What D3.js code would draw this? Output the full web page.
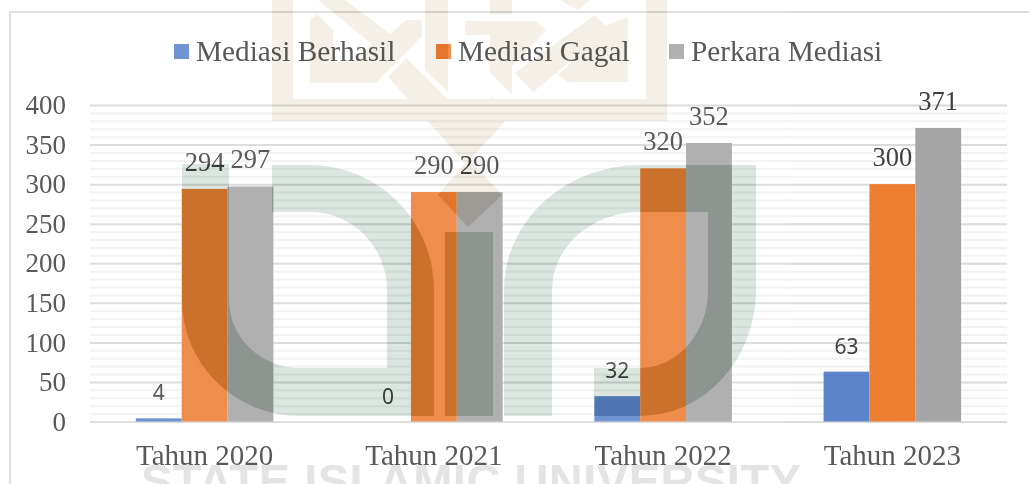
<!DOCTYPE html>
<html>
<head>
<meta charset="utf-8">
<script src="https://cdn.jsdelivr.net/npm/d3@7"></script>
<style>
  body { margin: 0; background: #fff; }
  svg { display: block; }
</style>
</head>
<body>
<script>
const categorias = ["Tahun 2020", "Tahun 2021", "Tahun 2022", "Tahun 2023"];
const series = ["Mediasi Berhasil", "Mediasi Gagal", "Perkara Mediasi"];
const mediasiBerhasil = [4, 0, 32, 63];
const mediasiGagal = [294, 290, 320, 300];
const perkaraMediasi = [297, 290, 352, 371];
const ticksMayor = [0, 50, 100, 150, 200, 250, 300, 350, 400];
const ticksMenor = [10, 20, 30, 40, 60, 70, 80, 90, 110, 120, 130, 140, 160, 170, 180, 190,
  210, 220, 230, 240, 260, 270, 280, 290, 310, 320, 330, 340, 360, 370, 380, 390];
const colores = ["#5b84cb", "#ed7d31", "#a5a5a5"];
const valores = [mediasiBerhasil, mediasiGagal, perkaraMediasi];

const serif = "'Liberation Serif', serif";
const sans = "'Noto Sans', sans-serif";

const svg = d3.select("body").append("svg")
  .attr("width", 1029)
  .attr("height", 484);

// Chart frame, only top and left survive in the scan
svg.append("path")
  .attr("d", "M10,484V12H1029")
  .attr("fill", "none")
  .attr("stroke", "#dcdcdc")
  .attr("stroke-width", 2);

const x0 = d3.scaleBand().domain(categorias).range([90, 1007]).paddingInner(0.4).paddingOuter(0.2);
const x1 = d3.scaleBand().domain(series).range([0, x0.bandwidth()]);
const y = d3.scaleLinear().domain([0, 400]).range([421.5, 105]);
const color = d3.scaleOrdinal().domain(series).range(colores);

// Gridlines
const gridMenor = svg.append("g").attr("transform", "translate(90,0)")
  .call(d3.axisLeft(y).tickValues(ticksMenor).tickSize(-917).tickFormat(""));
gridMenor.select(".domain").remove();
gridMenor.selectAll("line").attr("stroke", "#f2f2f2").attr("stroke-width", 2);

const gridMayor = svg.append("g").attr("transform", "translate(90,0)")
  .call(d3.axisLeft(y).tickValues(ticksMayor).tickSize(-917).tickFormat(""));
gridMayor.select(".domain").remove();
gridMayor.selectAll("line").attr("stroke", "#dadada").attr("stroke-width", 2);

// Bars
const grupos = svg.append("g").selectAll("g")
  .data(series)
  .join("g")
  .attr("fill", d => color(d));

grupos.selectAll("rect")
  .data((s, i) => categorias.map((c, j) => ({ c, s, v: valores[i][j] })))
  .join("rect")
  .attr("x", d => x0(d.c) + x1(d.s))
  .attr("y", d => y(d.v))
  .attr("width", x1.bandwidth())
  .attr("height", d => y(0) - y(d.v));

// Legend swatches
const legendaX = [174, 436, 669];
const legendaTextoX = [196, 458, 691];
svg.append("g").selectAll("rect")
  .data(series)
  .join("rect")
  .attr("x", (d, i) => legendaX[i])
  .attr("y", 44)
  .attr("width", 15)
  .attr("height", 15)
  .attr("fill", d => color(d));

// Watermark shapes
const marcaVerde = [
  "M182,164H229V300A71,68 0 0 0 300,368H387V290A77,78 0 0 0 310,212H272V165H310A124,125 0 0 1 434,290V416H300A118,116 0 0 1 182,300Z",
  "M445,232H493V416H445Z",
  "M504,416V290A136,125 0 0 1 640,165H756V290A116,126 0 0 1 640,416H594V368H640A68,78 0 0 0 708,290V212H640A88,78 0 0 0 552,290V416Z"
];
const marcaTan = [
  "M272,0H293V99H646V0H667V121H272Z",
  "M310,20L317,14L333,30V62H353L372,44L318,0H345L390,34L406,20H422V36L376,83H310Z",
  "M388,77L406,58L469,120L492,97L509,117L470,160L502,195L468,227L438,195L465,163Z",
  "M425,0H448V92L425,70Z",
  "M490,0H512V14H490Z",
  "M465,21H535L546,30L512,66V95L490,72V35H465Z",
  "M515,73L595,15L609,30L533,92Z",
  "M598,28L628,17V82H568L558,75L598,37Z",
  "M560,0H590L578,10Z"
];

// Faint white veil of the scan, not over the watermark shapes
const defs = svg.append("defs");
const mascara = defs.append("mask").attr("id", "hueco");
mascara.append("rect").attr("width", 1029).attr("height", 484).attr("fill", "#fff");
mascara.selectAll("path")
  .data(marcaVerde.concat(marcaTan))
  .join("path")
  .attr("d", d => d)
  .attr("fill", "#000");

svg.append("rect")
  .attr("width", 790)
  .attr("height", 484)
  .attr("fill", "#fff")
  .attr("opacity", 0.13)
  .attr("mask", "url(#hueco)");

// Watermark text sits under the labels
svg.append("text")
  .attr("x", 141)
  .attr("y", 497)
  .attr("textLength", 660)
  .attr("font-family", "'Liberation Sans', sans-serif")
  .attr("font-weight", "bold")
  .attr("font-size", 47)
  .attr("fill", "#e4e4e4")
  .text("STATE ISLAMIC UNIVERSITY");

// Axis labels
const ejeY = svg.append("g").attr("transform", "translate(90,0)")
  .call(d3.axisLeft(y).tickValues(ticksMayor).tickSize(0).tickPadding(24));
ejeY.select(".domain").remove();
ejeY.selectAll("text")
  .attr("font-family", serif)
  .attr("font-size", 27)
  .attr("fill", "#595959");

const ejeX = svg.append("g").attr("transform", "translate(0,421.5)")
  .call(d3.axisBottom(x0).tickSize(0).tickPadding(23));
ejeX.select(".domain").remove();
ejeX.selectAll("text")
  .attr("font-family", serif)
  .attr("font-size", 29)
  .attr("fill", "#595959");

// Legend text
svg.append("g").selectAll("text")
  .data(series)
  .join("text")
  .attr("x", (d, i) => legendaTextoX[i])
  .attr("y", 61)
  .attr("font-family", serif)
  .attr("font-size", 29.3)
  .attr("fill", "#595959")
  .text(d => d);

// Data labels, the blue series is set in a sans face
grupos.selectAll("text")
  .data((s, i) => categorias.map((c, j) => ({ c, s, v: valores[i][j], i })))
  .join("text")
  .attr("x", d => x0(d.c) + x1(d.s) + x1.bandwidth() / 2)
  .attr("y", d => y(d.v) - 18)
  .attr("text-anchor", "middle")
  .attr("font-family", d => d.i === 0 ? sans : serif)
  .attr("font-size", d => d.i === 0 ? 21 : 26.5)
  .attr("fill", "#404040")
  .text(d => d.v);

// Watermark multiplies over everything
const marca = svg.append("g").style("mix-blend-mode", "multiply");
marca.selectAll(".tan")
  .data(marcaTan)
  .join("path")
  .attr("class", "tan")
  .attr("d", d => d)
  .attr("fill", "#f4f0e8");
marca.selectAll(".verde")
  .data(marcaVerde)
  .join("path")
  .attr("class", "verde")
  .attr("d", d => d)
  .attr("fill", "#dbe6e0");
</script>
</body>
</html>
